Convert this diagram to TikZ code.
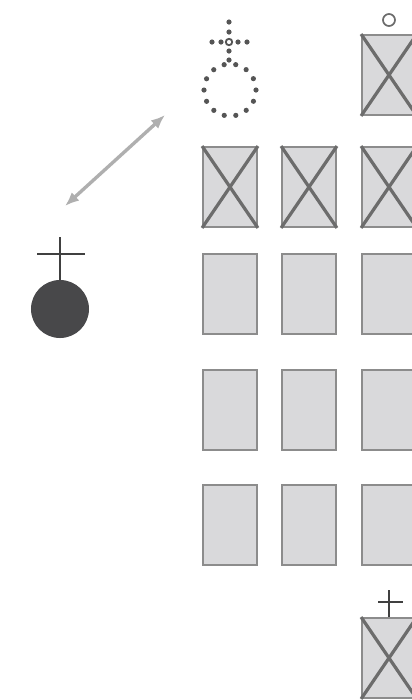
\documentclass[tikz,border=0pt]{standalone}
\usepackage{tikz}
\usetikzlibrary{arrows.meta, positioning, calc}
\definecolor{boxfill}{RGB}{217,217,219}
\definecolor{boxline}{RGB}{140,140,140}
\definecolor{crossline}{RGB}{108,108,108}
\definecolor{bodydark}{RGB}{72,72,74}
\definecolor{arrowgray}{RGB}{175,175,175}
\definecolor{dotgray}{RGB}{85,85,85}

\begin{document}
\begin{tikzpicture}[
    x=0.025cm, y=-0.025cm,
    seat/.style={draw=boxline, fill=boxfill, line width=1.3pt, inner sep=0pt,
                 minimum width=1.35cm, minimum height=2cm},
    xmark/.style={crossline, line width=2.3pt},
    marker/.style={black!75, line width=2pt}
]
\useasboundingbox (0,0) rectangle (412,700);

% Bloque de asientos libres
\foreach \r/\y in {2/294, 3/410, 4/525}
  \foreach \c/\x in {1/230, 2/309, 3/389}
    \node[seat] (s\r\c) at (\x,\y) {};

% Fila ocupada
\foreach \c/\x in {1/230, 2/309, 3/389} {
  \node[seat] (s1\c) at (\x,187) {};
  \draw[xmark] (s1\c.north west) -- (s1\c.south east);
  \draw[xmark] (s1\c.north east) -- (s1\c.south west);
}

% Asiento superior
\node[seat] (top) at (389,75) {};
\draw[xmark] (top.north west) -- (top.south east);
\draw[xmark] (top.north east) -- (top.south west);
\node[circle, draw=crossline, line width=1.2pt, minimum size=0.3cm, inner sep=0pt] (ring) at (389,20) {};

% Asiento inferior
\node[seat] (bottom) at (389,658) {};
\draw[xmark] (bottom.north west) -- (bottom.south east);
\draw[xmark] (bottom.north east) -- (bottom.south west);
\coordinate (btop) at (389,590);
\draw[marker] (bottom.north) -- (btop);
\draw[marker] (378,602) -- (403,602);

% Figura punteada
\node[circle, minimum size=1.3cm, inner sep=0pt] (ghost) at (230,90) {};
\foreach \a in {0,25.7,...,359}
  \fill[dotgray] ($(ghost.center)+(\a:26)$) circle (2.6);
\foreach \p in {(212,42),(221,42),(238,42),(247,42),(229,22),(229,32),(229,51),(229,60)}
  \fill[dotgray] \p circle (2.6);
\draw[dotgray, line width=1.3pt] (229,42) circle (3.2);

% Figura solida
\node[circle, fill=bodydark, minimum size=1.45cm, inner sep=0pt] (body) at (60,309) {};
\coordinate (htop) at (60,237);
\draw[marker] (body.north) -- (htop);
\draw[marker] (37,254) -- (85,254);

% Flecha
\coordinate (alow) at (65,206);
\coordinate (aup) at (165,115);
\draw[{Latex[length=10pt,width=8pt]}-{Latex[length=10pt,width=8pt]}, arrowgray, line width=2.4pt] (alow) -- (aup);

\end{tikzpicture}
\end{document}
